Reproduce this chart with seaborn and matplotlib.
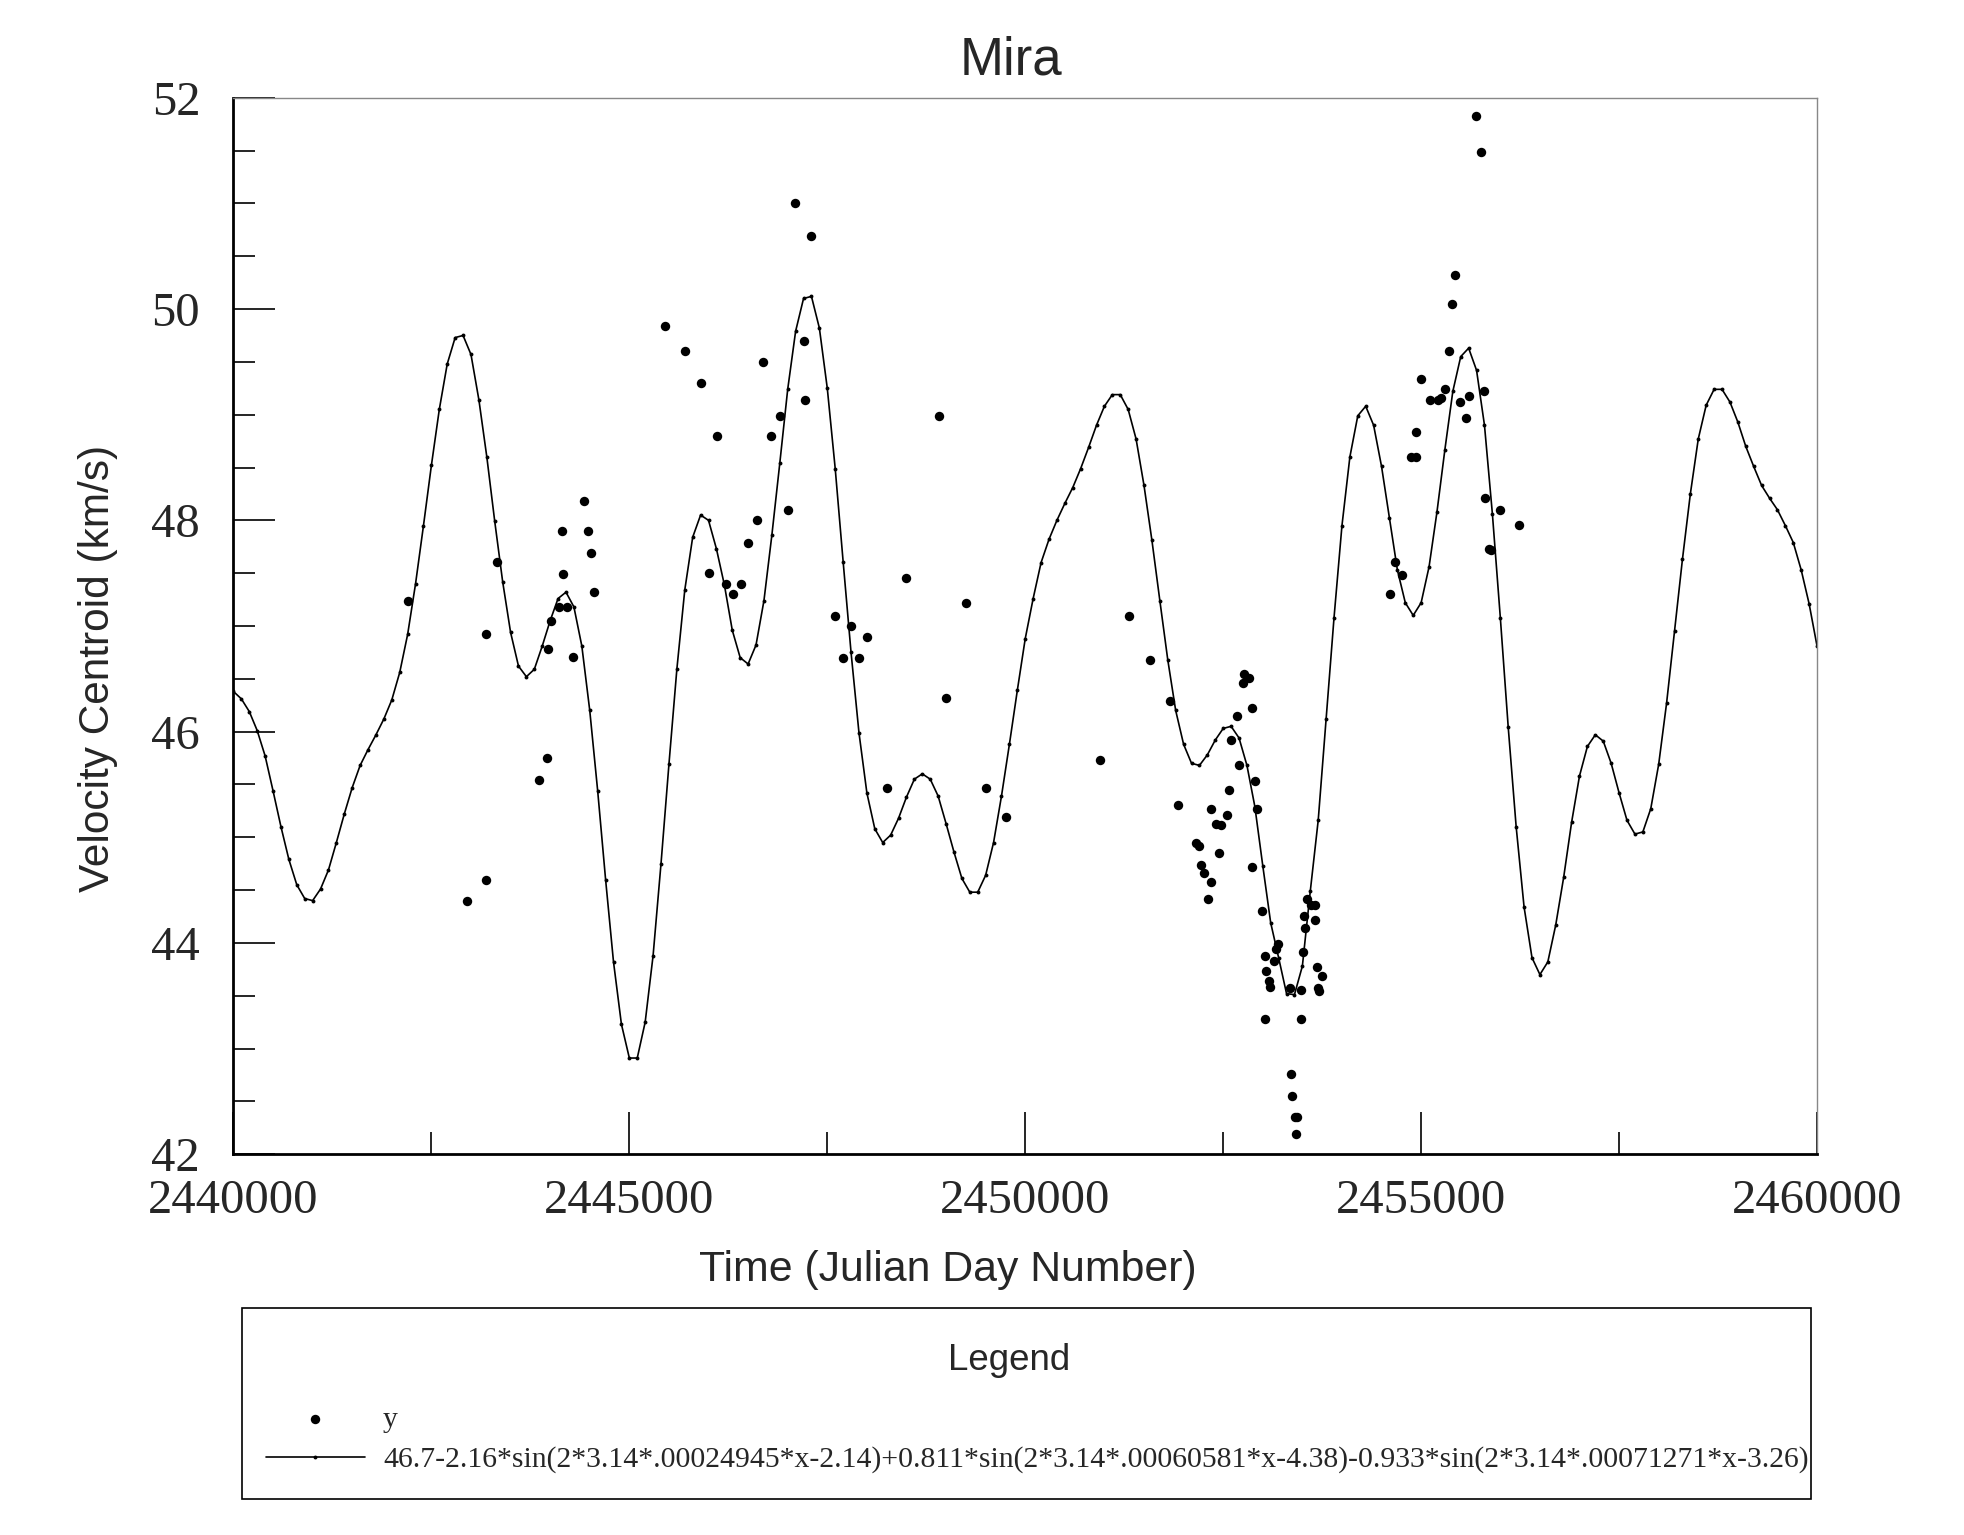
import matplotlib
matplotlib.use("Agg")
import matplotlib.pyplot as plt
from matplotlib.patches import Rectangle
from matplotlib.ticker import MultipleLocator
import numpy as np
import pandas as pd
import seaborn as sns

curve_jd = np.arange(2440000, 2460001, 100)
curve_vel = [
    46.38, 46.31, 46.19, 46.01, 45.77, 45.44, 45.10, 44.79, 44.55, 44.42,
    44.40, 44.51, 44.69, 44.95, 45.22, 45.47, 45.68, 45.83, 45.97, 46.12,
    46.30, 46.56, 46.92, 47.40, 47.95, 48.52, 49.05, 49.48, 49.73, 49.75,
    49.57, 49.14, 48.60, 47.99, 47.42, 46.94, 46.62, 46.52, 46.59, 46.81,
    47.05, 47.26, 47.32, 47.18, 46.81, 46.20, 45.44, 44.60, 43.82, 43.23,
    42.91, 42.91, 43.25, 43.88, 44.75, 45.69, 46.59, 47.34, 47.84, 48.05,
    48.00, 47.73, 47.39, 46.96, 46.70, 46.64, 46.82, 47.24, 47.86, 48.54,
    49.24, 49.79, 50.10, 50.12, 49.82, 49.25, 48.49, 47.61, 46.75, 45.99,
    45.42, 45.08, 44.95, 45.02, 45.18, 45.38, 45.55, 45.60, 45.55, 45.39,
    45.13, 44.86, 44.61, 44.48, 44.48, 44.64, 44.95, 45.39, 45.88, 46.39,
    46.88, 47.26, 47.60, 47.82, 48.00, 48.16, 48.31, 48.49, 48.69, 48.90,
    49.08, 49.19, 49.19, 49.05, 48.77, 48.33, 47.81, 47.24, 46.68, 46.20,
    45.88, 45.70, 45.68, 45.78, 45.92, 46.03, 46.05, 45.94, 45.68, 45.29,
    44.73, 44.19, 43.86, 43.52, 43.51, 43.78, 44.49, 45.16, 46.12, 47.08,
    47.95, 48.60, 48.99, 49.08, 48.90, 48.51, 48.02, 47.53, 47.22, 47.10,
    47.22, 47.56, 48.08, 48.67, 49.22, 49.55, 49.63, 49.42, 48.90, 48.06,
    47.08, 46.04, 45.10, 44.34, 43.86, 43.70, 43.82, 44.17, 44.62, 45.14,
    45.58, 45.86, 45.97, 45.91, 45.70, 45.42, 45.16, 45.03, 45.05, 45.27,
    45.69, 46.27, 46.95, 47.63, 48.25, 48.77, 49.09, 49.24, 49.24, 49.12,
    48.93, 48.70, 48.51, 48.33, 48.21, 48.10, 47.95, 47.79, 47.53, 47.21,
    46.81,
]

# observed velocity centroids
obs_jd = [
    2442200, 2442953, 2443184, 2443184, 2443323, 2443862, 2443963, 2443976,
    2444005, 2444114, 2444144, 2444165, 2444215, 2444291, 2444430, 2444481,
    2444514, 2444556, 2445449, 2445701, 2445903, 2446004, 2446101, 2446215,
    2446303, 2446404, 2446501, 2446606, 2446690, 2446794, 2446900, 2447005,
    2447098, 2447203, 2447215, 2447300, 2447594, 2447699, 2447805, 2447901,
    2448002, 2448255, 2448499, 2448912, 2449004, 2449248, 2449501, 2449753,
    2450949, 2451306, 2451580, 2451824, 2451929, 2452152, 2452194, 2452224,
    2452253, 2452308, 2452342, 2452342, 2452413, 2452443, 2452476, 2452548,
    2452573, 2452603, 2452674, 2452699, 2452750, 2452763, 2452826, 2452864,
    2452864, 2452906, 2452927, 2452990, 2453032, 2453032, 2453045, 2453078,
    2453095, 2453137, 2453162, 2453192, 2453339, 2453360, 2453373, 2453412,
    2453424, 2453437, 2453479, 2453479, 2453508, 2453521, 2453530, 2453563,
    2453614, 2453656, 2453664, 2453690, 2453698, 2453711, 2453748, 2454603,
    2454666, 2454759, 2454876, 2454931, 2454940, 2455003, 2455108, 2455213,
    2455247, 2455297, 2455352, 2455394, 2455432, 2455487, 2455571, 2455605,
    2455689, 2455760, 2455790, 2455811, 2455853, 2455887, 2455992, 2456232,
]
obs_vel = [
    47.24, 44.40, 44.60, 46.92, 47.61, 45.54, 45.75, 46.78,
    47.05, 47.18, 47.90, 47.49, 47.18, 46.71, 48.18, 47.90,
    47.69, 47.32, 49.84, 49.60, 49.30, 47.50, 48.80, 47.40,
    47.30, 47.40, 47.79, 48.00, 49.50, 48.80, 48.99, 48.10,
    51.00, 49.70, 49.14, 50.69, 47.09, 46.70, 47.00, 46.70,
    46.90, 45.47, 47.45, 48.99, 46.32, 47.22, 45.47, 45.19,
    45.73, 47.09, 46.68, 46.29, 45.31, 44.95, 44.92, 44.74,
    44.66, 44.42, 44.58, 45.27, 45.13, 44.85, 45.12, 45.21,
    45.45, 45.92, 46.15, 45.68, 46.46, 46.55, 46.51, 46.22,
    44.72, 45.53, 45.27, 44.30, 43.88, 43.28, 43.73, 43.64,
    43.58, 43.83, 43.94, 43.99, 43.57, 42.76, 42.55, 42.35,
    42.19, 42.35, 43.28, 43.55, 43.91, 44.25, 44.14, 44.42,
    44.36, 44.36, 44.22, 43.77, 43.57, 43.54, 43.69, 47.30,
    47.61, 47.48, 48.60, 48.84, 48.60, 49.34, 49.14, 49.14,
    49.16, 49.24, 49.60, 50.05, 50.32, 49.12, 48.97, 49.18,
    51.83, 51.49, 49.22, 48.21, 47.73, 47.72, 48.10, 47.96,
]

fit_label = ("46.7-2.16*sin(2*3.14*.00024945*x-2.14)+0.811*sin(2*3.14*.00060581*x-4.38)"
             "-0.933*sin(2*3.14*.00071271*x-3.26)")

sns.set_theme(style="white")
plt.rcParams["font.family"] = ["Liberation Serif", "DejaVu Serif"]

obs = pd.DataFrame({"jd": obs_jd, "vel": obs_vel})
fit = pd.DataFrame({"jd": curve_jd, "vel": curve_vel})

fig = plt.figure(figsize=(19.65, 15.35), dpi=100)
ax = fig.add_axes([0.1188, 0.2481, 0.8059, 0.6882])

sns.scatterplot(data=obs, x="jd", y="vel", ax=ax, color="black", s=46,
                edgecolor="black", linewidth=0, label="y", zorder=3)
sns.lineplot(data=fit, x="jd", y="vel", ax=ax, color="black", linewidth=1.2,
             marker="o", markersize=2.8, markeredgewidth=0, label=fit_label,
             zorder=2)
if ax.get_legend() is not None:
    ax.get_legend().remove()

ax.set_xlim(2440000, 2460000)
ax.set_ylim(42, 52)
ax.xaxis.set_major_locator(MultipleLocator(5000))
ax.xaxis.set_minor_locator(MultipleLocator(2500))
ax.yaxis.set_major_locator(MultipleLocator(2))
ax.yaxis.set_minor_locator(MultipleLocator(0.5))
ax.ticklabel_format(axis="x", style="plain", useOffset=False)
ax.tick_params(which="both", direction="in", color="black", width=1.2,
               bottom=True, left=True, top=False, right=False)
ax.tick_params(which="major", length=30, labelsize=35, pad=24)
ax.tick_params(which="minor", length=16)
ax.tick_params(axis="x", which="major", pad=18)

for side in ["left", "bottom"]:
    ax.spines[side].set_color("black")
    ax.spines[side].set_linewidth(2)
for side in ["top", "right"]:
    ax.spines[side].set_color("#888888")
    ax.spines[side].set_linewidth(1)

sans = ["Liberation Sans", "DejaVu Sans"]
ax.set_title("Mira", family=sans, fontsize=38, x=0.491, y=1.014)
ax.set_xlabel("Time (Julian Day Number)", family=sans, fontsize=30.8)
ax.set_ylabel("Velocity Centroid (km/s)", family=sans, fontsize=30.5)
ax.xaxis.set_label_coords(0.451, -0.091)
ax.xaxis.label.set_va("top")
ax.yaxis.set_label_coords(-0.073, 0.46)

# legend panel
fig.patches.append(Rectangle((0.1232, 0.0235), 0.7984, 0.1244, transform=fig.transFigure,
                             fill=False, edgecolor="black", linewidth=1.2))
fig.text(0.5135, 0.1136, "Legend", family=sans, fontsize=26.5, ha="center", va="center")
handles, labels = ax.get_legend_handles_labels()
fig.legend(handles, labels, loc="upper left", bbox_to_anchor=(0.1352, 0.0840),
           frameon=False, fontsize=21.4, handlelength=3.35, handletextpad=0.6,
           labelspacing=0.45, borderpad=0, borderaxespad=0)

fig.savefig("out.png", dpi=100)
